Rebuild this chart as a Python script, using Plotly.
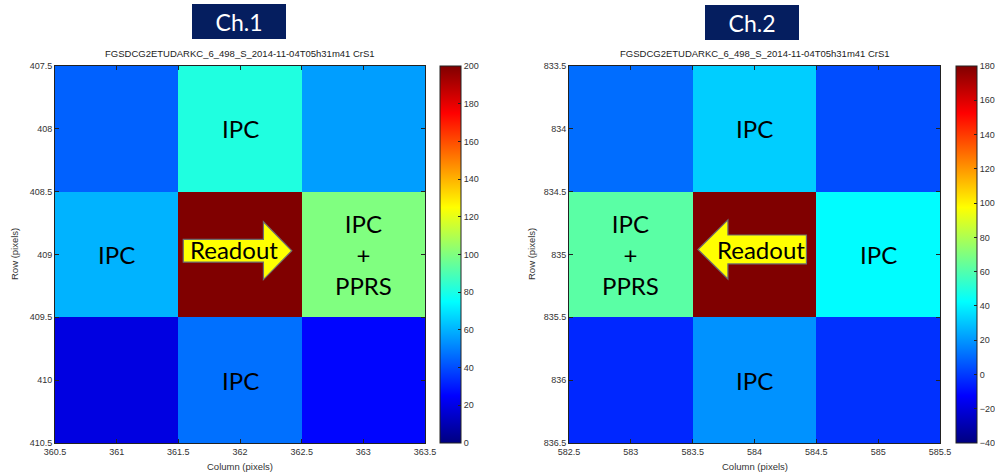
import plotly.graph_objects as go

# ---------------- data ----------------
ch1_cols = [361, 362, 363]
ch1_rows = [408, 409, 410]
ch1_z = [[44, 81, 56],
         [60, 200, 100],
         [19, 47, 26]]
ch1_zrange = [0, 200]
ch1_xticks = [360.5, 361, 361.5, 362, 362.5, 363, 363.5]
ch1_xtext = ["360.5", "361", "361.5", "362", "362.5", "363", "363.5"]
ch1_yticks = [407.5, 408, 408.5, 409, 409.5, 410, 410.5]
ch1_ytext = ["407.5", "408", "408.5", "409", "409.5", "410", "410.5"]
ch1_cbticks = [0, 20, 40, 60, 80, 100, 120, 140, 160, 180, 200]

ch2_cols = [583, 584, 585]
ch2_rows = [834, 835, 836]
ch2_z = [[11, 32, 4],
         [62, 180, 42],
         [-4, 19, -2]]
ch2_zrange = [-40, 180]
ch2_xticks = [582.5, 583, 583.5, 584, 584.5, 585, 585.5]
ch2_xtext = ["582.5", "583", "583.5", "584", "584.5", "585", "585.5"]
ch2_yticks = [833.5, 834, 834.5, 835, 835.5, 836, 836.5]
ch2_ytext = ["833.5", "834", "834.5", "835", "835.5", "836", "836.5"]
ch2_cbticks = [-40, -20, 0, 20, 40, 60, 80, 100, 120, 140, 160, 180]

ch1_labels = [(362, 408, "IPC"), (361, 409, "IPC"), (363, 409, "IPC<br>+<br>PPRS"), (362, 410, "IPC")]
ch2_labels = [(584, 834, "IPC"), (583, 835, "IPC<br>+<br>PPRS"), (585, 835, "IPC"), (584, 836, "IPC")]

file_title = "FGSDCG2ETUDARKC_6_498_S_2014-11-04T05h31m41 CrS1"

jet = [[0.0, "rgb(0,0,128)"], [0.125, "rgb(0,0,255)"], [0.375, "rgb(0,255,255)"],
       [0.625, "rgb(255,255,0)"], [0.875, "rgb(255,0,0)"], [1.0, "rgb(128,0,0)"]]

W, H = 995, 474
TICKFONT = dict(family="Liberation Sans, Arial", size=9, color="#333")

# plot-area pixel boxes
L1 = (55, 425); L2 = (569, 940); TOP, BOT = 66, 443
def xd(a, b): return [a / W, b / W]
ydom = [1 - BOT / H, 1 - TOP / H]

fig = go.Figure()

def cb(xpix, ticks):
    return dict(x=xpix / W, xanchor="left", xref="paper", y=sum(ydom) / 2, yanchor="middle",
                len=(BOT - TOP) / H, lenmode="fraction", thickness=21, thicknessmode="pixels",
                outlinecolor="#222", outlinewidth=1, tickvals=ticks, ticks="inside", ticklen=3,
                tickcolor="#222", tickfont=TICKFONT, ypad=0, xpad=0)

fig.add_trace(go.Heatmap(x=ch1_cols, y=ch1_rows, z=ch1_z, zmin=ch1_zrange[0], zmax=ch1_zrange[1],
                         colorscale=jet, colorbar=cb(440, ch1_cbticks), xaxis="x", yaxis="y",
                         hoverinfo="skip"))
fig.add_trace(go.Heatmap(x=ch2_cols, y=ch2_rows, z=ch2_z, zmin=ch2_zrange[0], zmax=ch2_zrange[1],
                         colorscale=jet, colorbar=cb(956, ch2_cbticks), xaxis="x2", yaxis="y2",
                         hoverinfo="skip"))

def axcommon(ticks, text):
    return dict(tickvals=ticks, ticktext=text, ticks="inside", ticklen=4, tickcolor="#222",
                showline=True, linecolor="#222", linewidth=1, mirror="ticks", showgrid=False,
                zeroline=False, tickfont=TICKFONT, fixedrange=True, automargin=False)

fig.update_layout(
    width=W, height=H, margin=dict(l=0, r=0, t=0, b=0, autoexpand=False),
    paper_bgcolor="white", plot_bgcolor="white", showlegend=False,
    xaxis=dict(domain=xd(*L1), range=[ch1_xticks[0], ch1_xticks[-1]], anchor="y", **axcommon(ch1_xticks, ch1_xtext)),
    yaxis=dict(domain=ydom, range=[ch1_yticks[-1], ch1_yticks[0]], anchor="x", **axcommon(ch1_yticks, ch1_ytext)),
    xaxis2=dict(domain=xd(*L2), range=[ch2_xticks[0], ch2_xticks[-1]], anchor="y2", **axcommon(ch2_xticks, ch2_xtext)),
    yaxis2=dict(domain=ydom, range=[ch2_yticks[-1], ch2_yticks[0]], anchor="x2", **axcommon(ch2_yticks, ch2_ytext)),
)

ann = []
LBLFONT = dict(family="Lato, Open Sans", size=24, color="black")
for (x, y, t) in ch1_labels:
    ann.append(dict(x=x, y=y, xref="x", yref="y", text=t, showarrow=False, font=LBLFONT))
for (x, y, t) in ch2_labels:
    ann.append(dict(x=x, y=y, xref="x2", yref="y2", text=t, showarrow=False, font=LBLFONT))

# Readout arrows (decorative shapes)
def arrow_path(xtail, xhead_base, xtip, yc, bh, hh):
    return (f"M {xtail},{yc-bh} L {xhead_base},{yc-bh} L {xhead_base},{yc-hh} L {xtip},{yc} "
            f"L {xhead_base},{yc+hh} L {xhead_base},{yc+bh} L {xtail},{yc+bh} Z")

shapes = [
    dict(type="path", xref="x", yref="y", path=arrow_path(361.54, 362.19, 362.42, 408.97, 0.09, 0.23),
         fillcolor="#ffff00", line=dict(color="#6e6e6e", width=1.2)),
    dict(type="path", xref="x2", yref="y2", path=arrow_path(584.42, 583.785, 583.543, 834.96, 0.115, 0.235),
         fillcolor="#ffff00", line=dict(color="#6e6e6e", width=1.2)),
]
ann.append(dict(x=361.95, y=408.96, xref="x", yref="y", text="Readout", showarrow=False, font=LBLFONT))
ann.append(dict(x=584.05, y=834.96, xref="x2", yref="y2", text="Readout", showarrow=False, font=LBLFONT))

# channel boxes
for cx, cy, t in [(239, 21, "Ch.1"), (752, 23, "Ch.2")]:
    ann.append(dict(x=cx / W, y=1 - cy / H, xref="paper", yref="paper", text=t, showarrow=False,
                    font=dict(family="Lato, Open Sans", size=23, color="white"),
                    bgcolor="rgb(5,30,95)", bordercolor="rgb(5,30,95)", width=90, height=31,
                    xanchor="center", yanchor="middle"))

# file titles
for cx in [(L1[0] + L1[1]) / 2, (L2[0] + L2[1]) / 2]:
    ann.append(dict(x=cx / W, y=1 - 54 / H, xref="paper", yref="paper", text=file_title, showarrow=False,
                    font=dict(family="Liberation Sans, Arial", size=9.5, color="#222"),
                    xanchor="center", yanchor="middle"))

# axis titles
AXF = dict(family="Liberation Sans, Arial", size=9.5, color="#333")
for cx in [(L1[0] + L1[1]) / 2, (L2[0] + L2[1]) / 2]:
    ann.append(dict(x=cx / W, y=1 - 466 / H, xref="paper", yref="paper", text="Column (pixels)",
                    showarrow=False, font=AXF, xanchor="center", yanchor="middle"))
for cx in [14, 531]:
    ann.append(dict(x=cx / W, y=1 - 254 / H, xref="paper", yref="paper", text="Row (pixels)",
                    showarrow=False, font=AXF, textangle=-90, xanchor="center", yanchor="middle"))

fig.update_layout(annotations=ann, shapes=shapes)
fig.write_html("out.html")
